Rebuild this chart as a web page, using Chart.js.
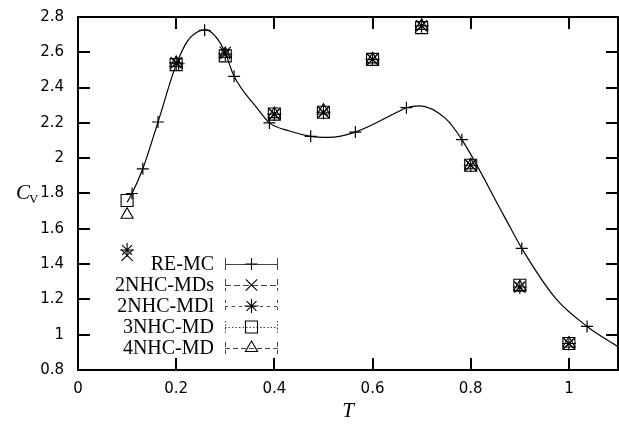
<!DOCTYPE html>
<html>
<head>
<meta charset="utf-8">
<script src="https://cdn.jsdelivr.net/npm/chart.js@4.4.1/dist/chart.umd.min.js"></script>
<style>
  html, body { margin: 0; padding: 0; background: #fff; }
  #wrap { width: 619px; height: 427px; }
</style>
</head>
<body>
<div id="wrap"><canvas id="chart" width="619" height="427"></canvas></div>
<script>
// RE-MC samples (plus markers)
const remcT  = [0.110, 0.132, 0.163, 0.205, 0.258, 0.318, 0.390, 0.474, 0.565, 0.669, 0.782, 0.904, 1.037];
const remcCv = [1.80, 1.94, 2.205, 2.535, 2.725, 2.464, 2.200, 2.124, 2.148, 2.286, 2.105, 1.489, 1.047];

// smooth curve drawn through the RE-MC data
const fitT  = [0.100, 0.110, 0.132, 0.163, 0.200, 0.224, 0.245, 0.260, 0.280, 0.298, 0.318, 0.366, 0.390, 0.431, 0.474, 0.510, 0.565, 0.654, 0.669, 0.695, 0.749, 0.782, 0.868, 0.904, 0.973, 1.037, 1.100];
const fitCv = [1.75, 1.80, 1.94, 2.205, 2.53, 2.668, 2.718, 2.728, 2.690, 2.610, 2.464, 2.280, 2.200, 2.154, 2.124, 2.118, 2.148, 2.266, 2.286, 2.297, 2.224, 2.105, 1.672, 1.489, 1.206, 1.047, 0.932];

// MD runs
const mdT    = [0.1, 0.2, 0.3, 0.4, 0.5, 0.6, 0.7, 0.8, 0.9, 1.0];
const md2sCv = [1.45, 2.54, 2.60, 2.25, 2.26, 2.56, 2.75, 1.96, 1.27, 0.95];
const md2lCv = [1.48, 2.54, 2.59, 2.25, 2.26, 2.56, 2.75, 1.96, 1.27, 0.95];
const md3Cv  = [1.76, 2.53, 2.58, 2.25, 2.26, 2.56, 2.74, 1.96, 1.28, 0.95];
const md4Cv  = [1.68, 2.54, 2.59, 2.25, 2.27, 2.56, 2.75, 1.96, 1.27, 0.95];

const xTicks = [0, 0.2, 0.4, 0.6, 0.8, 1];
const yTicks = [0.8, 1, 1.2, 1.4, 1.6, 1.8, 2, 2.2, 2.4, 2.6, 2.8];

const legendItems = [
  { label: 'RE-MC',     style: 'cross',    radius: 6,   dash: [] },
  { label: '2NHC-MDs',  style: 'crossRot', radius: 8,   dash: [6, 3] },
  { label: '2NHC-MDl',  style: 'star',     radius: 7,   dash: [3, 4] },
  { label: '3NHC-MD',   style: 'rect',     radius: 8.5, dash: [1.5, 2] },
  { label: '4NHC-MD',   style: 'triangle', radius: 7,   dash: [5, 3] },
];

const pts = (xs, ys) => xs.map((t, i) => ({ x: t, y: ys[i] }));

function mdSet(label, data, style, radius) {
  return {
    label, data: pts(mdT, data), showLine: false,
    pointStyle: style, pointRadius: radius, pointHoverRadius: radius,
    borderColor: '#000', backgroundColor: 'rgba(0,0,0,0)', pointBorderWidth: 1.1
  };
}

// frame, inward ticks, axis titles, legend (gnuplot look)
const decor = {
  id: 'decor',
  afterDraw(chart) {
    const { ctx, chartArea: a, scales } = chart;
    const sx = scales.x, sy = scales.y;
    const l = Math.round(a.left), r = Math.round(a.right), t = Math.round(a.top), b = Math.round(a.bottom);
    ctx.save();
    ctx.setTransform(1, 0, 0, 1, 0, 0);
    ctx.fillStyle = '#000';
    // frame
    ctx.fillRect(l - 1, t - 1, r - l + 2, 2);
    ctx.fillRect(l - 1, b - 1, r - l + 2, 2);
    ctx.fillRect(l - 1, t - 1, 2, b - t + 2);
    ctx.fillRect(r - 1, t - 1, 2, b - t + 2);
    // inward ticks on all four sides (mirrored)
    const L = 12;
    sx.ticks.forEach((tk, i) => {
      const px = Math.round(sx.getPixelForTick(i));
      ctx.fillRect(px - 1, b - L, 2, L);
      ctx.fillRect(px - 1, t, 2, L);
    });
    sy.ticks.forEach((tk, i) => {
      const py = Math.round(sy.getPixelForTick(i));
      ctx.fillRect(l, py - 1, L, 2);
      ctx.fillRect(r - L, py - 1, L, 2);
    });

    // axis titles
    ctx.textBaseline = 'alphabetic';
    ctx.textAlign = 'left';
    ctx.font = 'italic 21px "Liberation Serif"';
    ctx.fillText('C', 16, 199);
    ctx.font = '13px "Liberation Serif"';
    ctx.fillText('V', 29, 203);
    ctx.font = 'italic 21px "Liberation Serif"';
    ctx.textAlign = 'center';
    ctx.fillText('T', 348, 417);

    // legend
    const x0 = 225, x1 = 278, xm = (x0 + x1) / 2;
    legendItems.forEach((it, i) => {
      const yy = 264 + i * 21;
      ctx.font = '20px "Liberation Serif"';
      ctx.textAlign = 'right';
      ctx.textBaseline = 'middle';
      ctx.fillStyle = '#000';
      ctx.fillText(it.label, 214, yy + 1);
      ctx.strokeStyle = '#444';
      ctx.lineWidth = 1;
      ctx.setLineDash(it.dash);
      ctx.beginPath();
      ctx.moveTo(x0, yy + 0.5); ctx.lineTo(x1, yy + 0.5);
      ctx.moveTo(x0 + 0.5, yy - 6); ctx.lineTo(x0 + 0.5, yy + 6);
      ctx.moveTo(x1 - 0.5, yy - 6); ctx.lineTo(x1 - 0.5, yy + 6);
      ctx.stroke();
      ctx.setLineDash([]);
      ctx.strokeStyle = '#000';
      ctx.fillStyle = 'rgba(0,0,0,0)';
      ctx.lineWidth = 1.1;
      Chart.helpers.drawPoint(ctx, { pointStyle: it.style, radius: it.radius, borderWidth: 1.1 }, xm, yy);
    });
    ctx.restore();
  }
};

new Chart(document.getElementById('chart'), {
  type: 'scatter',
  data: {
    datasets: [
      {
        label: 'fit', data: pts(fitT, fitCv), showLine: true, pointRadius: 0,
        borderColor: '#000', borderWidth: 1.2, cubicInterpolationMode: 'monotone', fill: false
      },
      {
        label: 'RE-MC', data: pts(remcT, remcCv), showLine: false,
        pointStyle: 'cross', pointRadius: 6, pointHoverRadius: 6,
        borderColor: '#000', pointBorderWidth: 1.2
      },
      mdSet('2NHC-MDs', md2sCv, 'crossRot', 8),
      mdSet('2NHC-MDl', md2lCv, 'star', 7),
      mdSet('3NHC-MD', md3Cv, 'rect', 8.5),
      mdSet('4NHC-MD', md4Cv, 'triangle', 7),
    ]
  },
  options: {
    responsive: false,
    animation: false,
    devicePixelRatio: 1,
    layout: { autoPadding: false, padding: { top: 17, right: 1, left: 0, bottom: 0 } },
    plugins: { legend: { display: false }, tooltip: { enabled: false } },
    scales: {
      x: {
        type: 'linear', min: 0, max: 1.1,
        afterBuildTicks: s => { s.ticks = xTicks.map(v => ({ value: v })); },
        afterFit: s => { s.height = 57; s.paddingLeft = 0; s.paddingRight = 0; },
        grid: { display: false, drawTicks: false }, border: { display: false },
        ticks: { padding: 10, color: '#000', font: { family: 'DejaVu Sans', size: 15 }, callback: v => String(v) }
      },
      y: {
        type: 'linear', min: 0.8, max: 2.8,
        afterBuildTicks: s => { s.ticks = yTicks.map(v => ({ value: v })); },
        afterFit: s => { s.width = 78; s.paddingTop = 0; s.paddingBottom = 0; },
        grid: { display: false, drawTicks: false }, border: { display: false },
        ticks: { padding: 14, color: '#000', font: { family: 'DejaVu Sans', size: 15 }, callback: v => String(v) }
      }
    }
  },
  plugins: [decor]
});
</script>
</body>
</html>
